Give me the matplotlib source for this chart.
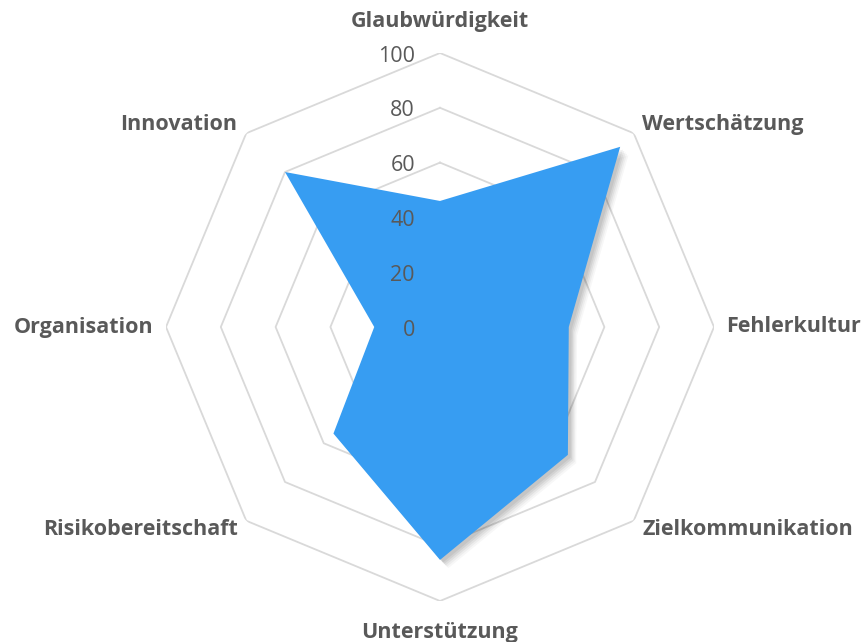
import numpy as np
import matplotlib
matplotlib.use("Agg")
import matplotlib.pyplot as plt
import matplotlib.patheffects as pe

# Kategorien und Werte
categories = ["Glaubwürdigkeit", "Wertschätzung", "Fehlerkultur", "Zielkommunikation",
              "Unterstützung", "Risikobereitschaft", "Organisation", "Innovation"]
values = [46, 93, 47, 66, 85, 55, 24, 80]
tick_values = [0, 20, 40, 60, 80, 100]

plt.rcParams["font.family"] = ["Open Sans", "DejaVu Sans"]
text_color = "#595959"
grid_color = "#D9D9D9"
fill_color = "#379DF2"

fig = plt.figure(figsize=(8.62, 6.42), dpi=100)
cx, cy, rad = 440, 327, 274
ax = fig.add_axes([(cx - rad) / 862, (642 - cy - rad) / 642, 2 * rad / 862, 2 * rad / 642],
                  projection="polar")
ax.set_theta_zero_location("N")
ax.set_theta_direction(-1)
ax.set_ylim(0, 100)
ax.grid(False)
ax.spines["polar"].set_visible(False)
ax.set_xticks([])
ax.set_yticks([])
ax.patch.set_alpha(0)

n = len(categories)
angles = np.arange(n) * 2 * np.pi / n
closed = np.append(angles, angles[0])

# Achteck-Gitter
for t in tick_values[1:]:
    ax.plot(closed, [t] * (n + 1), color=grid_color, lw=1.3, zorder=1)

# Datenfläche mit weichem Schatten
vals = np.append(values, values[0])
shadow = [pe.SimplePatchShadow(offset=(o, -o), shadow_rgbFace="black", alpha=a)
          for o, a in [(6, 0.03), (5, 0.04), (4, 0.05), (3, 0.06), (2, 0.06)]]
ax.fill(closed, vals, color=fill_color, lw=0, zorder=2,
        path_effects=shadow + [pe.Normal()])

# Achsenbeschriftung (Werte)
for t in tick_values:
    ax.annotate(str(t), xy=(0, t), xytext=(-25, -3), textcoords="offset pixels",
                ha="right", va="center", fontsize=15.5, color=text_color, zorder=3)

# Kategorien
fs = 15.5
for ang, name in zip(angles, categories):
    deg = np.degrees(ang) % 360
    if deg == 0:
        ax.text(ang, 111.5, name, ha="center", va="center", fontsize=fs,
                fontweight="bold", color=text_color)
    elif deg == 180:
        ax.text(ang, 111.5, name, ha="center", va="center", fontsize=fs,
                fontweight="bold", color=text_color)
    elif deg < 180:
        ax.text(ang, 104.5, name, ha="left", va="center", fontsize=fs,
                fontweight="bold", color=text_color)
    else:
        ax.text(ang, 104.5, name, ha="right", va="center", fontsize=fs,
                fontweight="bold", color=text_color)

fig.savefig("out.png", dpi=100)
